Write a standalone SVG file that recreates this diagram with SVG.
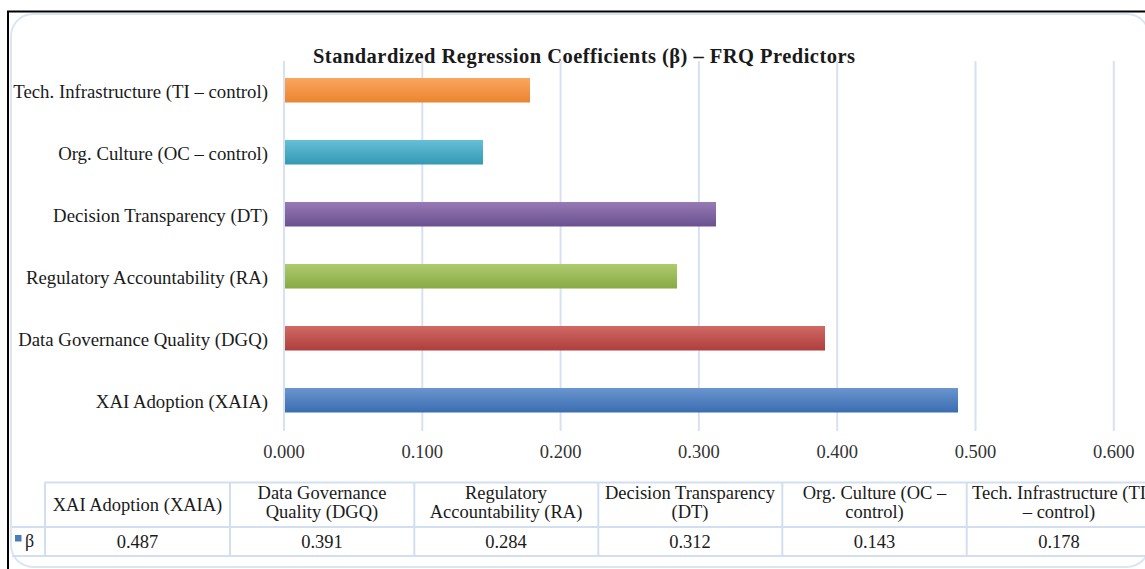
<svg xmlns="http://www.w3.org/2000/svg" width="1145" height="569" viewBox="0 0 1145 569">
  <style>
    text { font-family: "Liberation Serif", "Times New Roman", serif; fill: #1a1a1a; }
    .title { font-size: 20.5px; font-weight: bold; text-anchor: middle; }
    .cat { font-size: 18.8px; text-anchor: end; }
    .tick { font-size: 18.5px; text-anchor: middle; fill: #333; }
    .cell { font-size: 18.5px; text-anchor: middle; }
    .grid { stroke: #D6E2F2; stroke-width: 2; }
    .tbl { stroke: #D2DFF0; stroke-width: 2; fill: none; }
  </style>
  <defs>
    <linearGradient id="gBlue" x1="0" y1="0" x2="0" y2="1"><stop offset="0" stop-color="#6A95CF"/><stop offset="1" stop-color="#3A6DB1"/></linearGradient>
    <linearGradient id="gRed" x1="0" y1="0" x2="0" y2="1"><stop offset="0" stop-color="#D06966"/><stop offset="1" stop-color="#AF3E3B"/></linearGradient>
    <linearGradient id="gGreen" x1="0" y1="0" x2="0" y2="1"><stop offset="0" stop-color="#AECB6E"/><stop offset="1" stop-color="#88A944"/></linearGradient>
    <linearGradient id="gPurple" x1="0" y1="0" x2="0" y2="1"><stop offset="0" stop-color="#957AB6"/><stop offset="1" stop-color="#6C5190"/></linearGradient>
    <linearGradient id="gTeal" x1="0" y1="0" x2="0" y2="1"><stop offset="0" stop-color="#66BFD6"/><stop offset="1" stop-color="#3399B3"/></linearGradient>
    <linearGradient id="gOrange" x1="0" y1="0" x2="0" y2="1"><stop offset="0" stop-color="#FAA65F"/><stop offset="1" stop-color="#EA8430"/></linearGradient>
  </defs>

  <rect width="1145" height="569" fill="#ffffff"/>
  <!-- outer frame -->
  <rect x="8" y="11.5" width="1200" height="620" fill="none" stroke="#000" stroke-width="2"/>
  <!-- chart area -->
  <rect x="11" y="14" width="1138" height="553" rx="22" fill="#ffffff" stroke="#DCE6F3" stroke-width="2"/>

  <text class="title" x="584" y="62.5" textLength="542" lengthAdjust="spacing">Standardized Regression Coefficients (β) – FRQ Predictors</text>

  <!-- vertical gridlines -->
  <g id="gridlines">
    <line class="grid" x1="284" y1="61" x2="284" y2="431"/>
    <line class="grid" x1="422.3" y1="61" x2="422.3" y2="431"/>
    <line class="grid" x1="560.6" y1="61" x2="560.6" y2="431"/>
    <line class="grid" x1="698.9" y1="61" x2="698.9" y2="431"/>
    <line class="grid" x1="837.2" y1="61" x2="837.2" y2="431"/>
    <line class="grid" x1="975.5" y1="61" x2="975.5" y2="431"/>
    <line class="grid" x1="1113.8" y1="61" x2="1113.8" y2="431"/>
  </g>

  <!-- bars -->
  <g id="bar-ti"><rect x="285" y="78" width="245" height="24.5" fill="url(#gOrange)"/><text class="cat" x="268" y="97.5">Tech. Infrastructure (TI – control)</text></g>
  <g id="bar-oc"><rect x="285" y="140" width="198" height="24.5" fill="url(#gTeal)"/><text class="cat" x="268" y="159.5">Org. Culture (OC – control)</text></g>
  <g id="bar-dt"><rect x="285" y="202" width="431" height="24.5" fill="url(#gPurple)"/><text class="cat" x="268" y="221.5">Decision Transparency (DT)</text></g>
  <g id="bar-ra"><rect x="285" y="264" width="392" height="24.5" fill="url(#gGreen)"/><text class="cat" x="268" y="283.5">Regulatory Accountability (RA)</text></g>
  <g id="bar-dgq"><rect x="285" y="326" width="540" height="24.5" fill="url(#gRed)"/><text class="cat" x="268" y="345.5">Data Governance Quality (DGQ)</text></g>
  <g id="bar-xaia"><rect x="285" y="388" width="673" height="24.5" fill="url(#gBlue)"/><text class="cat" x="268" y="407.5">XAI Adoption (XAIA)</text></g>

  <!-- axis ticks -->
  <g id="axis">
    <text class="tick" x="284" y="457.5">0.000</text>
    <text class="tick" x="422.3" y="457.5">0.100</text>
    <text class="tick" x="560.6" y="457.5">0.200</text>
    <text class="tick" x="698.9" y="457.5">0.300</text>
    <text class="tick" x="837.2" y="457.5">0.400</text>
    <text class="tick" x="975.5" y="457.5">0.500</text>
    <text class="tick" x="1113.8" y="457.5">0.600</text>
  </g>

  <!-- data table -->
  <g id="data-table">
    <line class="tbl" x1="45" y1="482.5" x2="1160" y2="482.5"/>
    <line class="tbl" x1="12" y1="527" x2="1160" y2="527"/>
    <line class="tbl" x1="12" y1="556" x2="1160" y2="556"/>
    <line class="tbl" x1="45" y1="482" x2="45" y2="556"/>
    <line class="tbl" x1="230" y1="482" x2="230" y2="556"/>
    <line class="tbl" x1="414.3" y1="482" x2="414.3" y2="556"/>
    <line class="tbl" x1="598.3" y1="482" x2="598.3" y2="556"/>
    <line class="tbl" x1="782.3" y1="482" x2="782.3" y2="556"/>
    <line class="tbl" x1="966.7" y1="482" x2="966.7" y2="556"/>

    <text class="cell" x="137.5" y="511">XAI Adoption (XAIA)</text>
    <text class="cell" x="322" y="499">Data Governance</text>
    <text class="cell" x="322" y="518">Quality (DGQ)</text>
    <text class="cell" x="506" y="499">Regulatory</text>
    <text class="cell" x="506" y="518">Accountability (RA)</text>
    <text class="cell" x="690" y="499">Decision Transparency</text>
    <text class="cell" x="690" y="518">(DT)</text>
    <text class="cell" x="874.5" y="499">Org. Culture (OC –</text>
    <text class="cell" x="874.5" y="518">control)</text>
    <text class="cell" x="1059" y="499">Tech. Infrastructure (TI</text>
    <text class="cell" x="1059" y="518">– control)</text>

    <rect x="15" y="535" width="6.5" height="6.5" fill="#4A7EBB"/>
    <text x="25" y="547" style="font-size:18px">β</text>
    <text class="cell" x="137.5" y="547.5">0.487</text>
    <text class="cell" x="322" y="547.5">0.391</text>
    <text class="cell" x="506" y="547.5">0.284</text>
    <text class="cell" x="690" y="547.5">0.312</text>
    <text class="cell" x="874.5" y="547.5">0.143</text>
    <text class="cell" x="1059" y="547.5">0.178</text>
  </g>
</svg>
